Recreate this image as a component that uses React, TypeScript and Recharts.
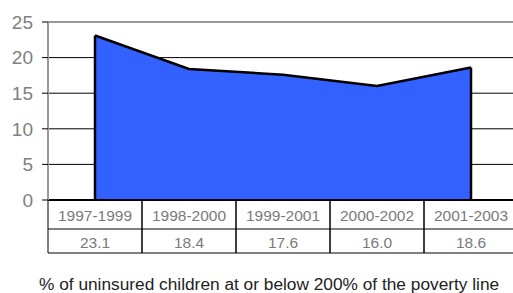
import React from 'react';
import { AreaChart, Area, XAxis, YAxis, CartesianGrid, ReferenceLine } from 'recharts';

const periods = ['1997-1999', '1998-2000', '1999-2001', '2000-2002', '2001-2003'];
const uninsured = [23.1, 18.4, 17.6, 16.0, 18.6];
const yTicks = [0, 5, 10, 15, 20, 25];

const data = periods.map((period, i) => ({ period, value: uninsured[i] }));

const FONT = '"Liberation Sans", Arial, Helvetica, sans-serif';
const HALF = 47; // half of a table cell width
const ROW1 = 29;
const ROW2 = 53;

// each x tick draws its own column of the little data table under the chart
const TableTick = (props: any) => {
  const { x, y, payload } = props;
  const i = payload.index;
  return (
    <g>
      <line x1={x - HALF} y1={y} x2={x - HALF} y2={y + ROW2} stroke="#000" strokeWidth={1} />
      <line x1={x + HALF} y1={y} x2={x + HALF} y2={y + ROW2} stroke="#000" strokeWidth={1} />
      <line x1={x - HALF} y1={y + ROW1} x2={x + HALF} y2={y + ROW1} stroke="#000" strokeWidth={1} />
      <line x1={x - HALF} y1={y + ROW2} x2={x + HALF} y2={y + ROW2} stroke="#000" strokeWidth={1} />
      <text x={x} y={y + 15} dy="0.355em" textAnchor="middle" fill="#7a7a7a" fontSize={15.5} fontFamily={FONT}>
        {payload.value}
      </text>
      <text x={x} y={y + 42} dy="0.355em" textAnchor="middle" fill="#7a7a7a" fontSize={15.5} fontFamily={FONT}>
        {uninsured[i].toFixed(1)}
      </text>
    </g>
  );
};

const App: React.FC = () => {
  const first = periods[0];
  const last = periods[periods.length - 1];
  return (
    <div style={{ position: 'absolute', left: 0, top: 0, width: 513, height: 293, overflow: 'hidden', background: '#fff' }}>
      <AreaChart
        width={530}
        height={293}
        data={data}
        margin={{ top: 22, right: 12, left: 0, bottom: 40 }}
      >
        <CartesianGrid vertical={false} stroke="#000" strokeWidth={1} />
        <XAxis
          dataKey="period"
          height={53}
          padding={{ left: HALF, right: HALF }}
          axisLine={{ stroke: '#000', strokeWidth: 2 }}
          tickLine={false}
          tickSize={0}
          tickMargin={0}
          interval={0}
          tick={<TableTick />}
        />
        <YAxis
          width={48}
          domain={[0, 25]}
          ticks={yTicks}
          tickSize={6}
          tickMargin={9}
          axisLine={{ stroke: '#999', strokeWidth: 2 }}
          tickLine={{ stroke: '#000' }}
          tick={{ fill: '#808080', fontSize: 19, fontFamily: FONT }}
        />
        <ReferenceLine y={25} stroke="#999" strokeWidth={2} />
        <Area
          type="linear"
          dataKey="value"
          stroke="#000"
          strokeWidth={2.5}
          fill="#3361ff"
          fillOpacity={1}
          isAnimationActive={false}
        />
        <ReferenceLine segment={[{ x: first, y: 0 }, { x: first, y: uninsured[0] }]} stroke="#000" strokeWidth={2.5} />
        <ReferenceLine
          segment={[{ x: last, y: 0 }, { x: last, y: uninsured[uninsured.length - 1] }]}
          stroke="#000"
          strokeWidth={2.5}
        />
      </AreaChart>
      <div
        style={{
          position: 'absolute',
          left: 39,
          top: 274,
          whiteSpace: 'nowrap',
          fontFamily: FONT,
          fontSize: 17.3,
          lineHeight: '20px',
          color: '#222',
        }}
      >
        % of uninsured children at or below 200% of the poverty line
      </div>
    </div>
  );
};

export default App;
